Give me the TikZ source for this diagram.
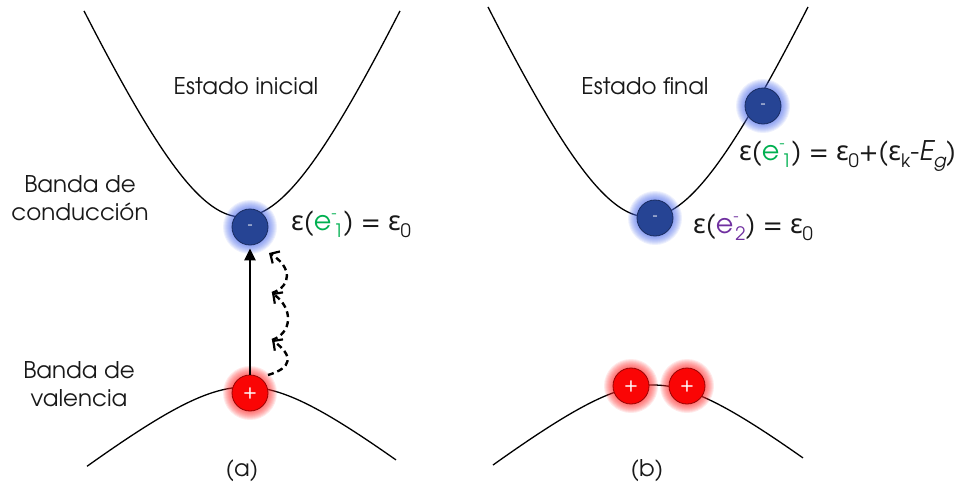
\documentclass[tikz,border=0pt]{standalone}
\usepackage{fontspec}
\setmainfont{TeX Gyre Adventor}
\newfontfamily\gk{Noto Sans}
\usetikzlibrary{arrows.meta}
\definecolor{egreen}{RGB}{0,176,80}
\definecolor{epurple}{RGB}{112,48,160}
\definecolor{eblue}{RGB}{38,68,148}
\definecolor{eglow}{RGB}{80,110,235}
\definecolor{hred}{RGB}{250,5,5}
\definecolor{hglow}{RGB}{255,40,40}
\definecolor{txt}{RGB}{25,25,25}
\newcommand\eps{{\gk ε}}
\newcommand\sbs[1]{\raisebox{-0.28em}{\fontsize{18.5}{18.5}\selectfont #1}}
\newcommand\sps[1]{\raisebox{0.42em}{\fontsize{16}{16}\selectfont #1}}
\newcommand\elab[2]{\textcolor{#1}{e\sps{-}\kern-0.12em\sbs{#2}}}
\newcommand\glowat[3]{\foreach \r in {18,19,...,27}{\fill[#3, opacity=0.10] (#1,#2) circle[radius=\r pt];}}
\tikzset{
  band/.style={line width=1.3pt, black},
  lbl/.style={font=\fontsize{23}{28}\selectfont, text=txt, inner sep=0pt, anchor=base},
  eqn/.style={font=\fontsize{27}{30}\selectfont, text=txt, inner sep=0pt, anchor=base west},
  elec/.style={circle, minimum size=36pt, inner sep=0pt, fill=eblue, draw=eblue!65!black, line width=0.8pt, text=white, font=\fontsize{15}{15}\selectfont},
  hole/.style={circle, minimum size=36pt, inner sep=0pt, fill=hred, draw=hred!60!black, line width=0.8pt, text=white, font=\fontsize{20}{20}\selectfont},
  wave/.style={line width=2.4pt, dash pattern=on 6pt off 4pt, -{Straight Barb[length=7pt,width=14pt,line width=2.2pt]}}
}
\begin{document}
\begin{tikzpicture}[x=1pt,y=-1pt]
\useasboundingbox (0,0) rectangle (959,483);
% bands
\draw[band] plot[domain=-158:158, samples=90, smooth] ({242+\x},{217-202*(sqrt(1+(\x/90)^2)-1)});
\draw[band] plot[domain=-159:150, samples=90, smooth] ({246+\x},{387+59*(sqrt(1+(\x/75)^2)-1)});
\draw[band] plot[domain=-160:160, samples=90, smooth] ({648+\x},{217-202*(sqrt(1+(\x/90)^2)-1)});
\draw[band] plot[domain=-160:150, samples=90, smooth] ({653+\x},{385+59*(sqrt(1+(\x/75)^2)-1)});
% glows
\glowat{250}{227}{eglow}
\glowat{250}{393}{hglow}
\glowat{655}{218}{eglow}
\glowat{763}{106}{eglow}
\glowat{631}{386}{hglow}
\glowat{687}{386}{hglow}
% particles
\node[elec] (e1) at (250,227) {-};
\node[hole] (h1) at (250,393) {+};
\node[elec] (e2) at (655,218) {-};
\node[elec] (e3) at (763,106) {-};
\node[hole] (h2) at (631,386) {+};
\node[hole] (h3) at (687,386) {+};
% arrows
\draw[line width=2.5pt, -{Triangle[length=12pt,width=11pt]}, shorten >=3pt] (h1.north) -- (e1.south);
\coordinate (w0) at (268,375);
\coordinate (w1) at (272,340);
\coordinate (w2) at (272,293);
\coordinate (w3) at (269,253);
\draw[wave] (w0) .. controls (292,368) and (294,356) .. (w1);
\draw[wave] (w1) .. controls (292,333) and (294,309) .. (w2);
\draw[wave] (w2) .. controls (292,286) and (292,267) .. (w3);
% labels
\node[lbl] (ti) at (246,94) {Estado inicial};
\node[lbl] (tf) at (645,94) {Estado final};
\node[lbl] (bc1) at (80,192) {Banda de};
\node[lbl] (bc2) at (80,220) {conducción};
\node[lbl] (bv1) at (79,378) {Banda de};
\node[lbl] (bv2) at (79,406) {valencia};
\node[lbl] (la) at (242,476) {(a)};
\node[lbl] (lb) at (647,476) {(b)};
\node[eqn] (q1) at (291,230) {\eps(\elab{egreen}{1}) = \eps\sbs{0}};
\node[eqn] (q2) at (693,233) {\eps(\elab{epurple}{2}) = \eps\sbs{0}};
\node[eqn] (q3) at (739,160) {\eps(\elab{egreen}{1}) = \eps\sbs{0}+(\eps\sbs{k}-\textit{E\sbs{g}})};
\end{tikzpicture}
\end{document}
